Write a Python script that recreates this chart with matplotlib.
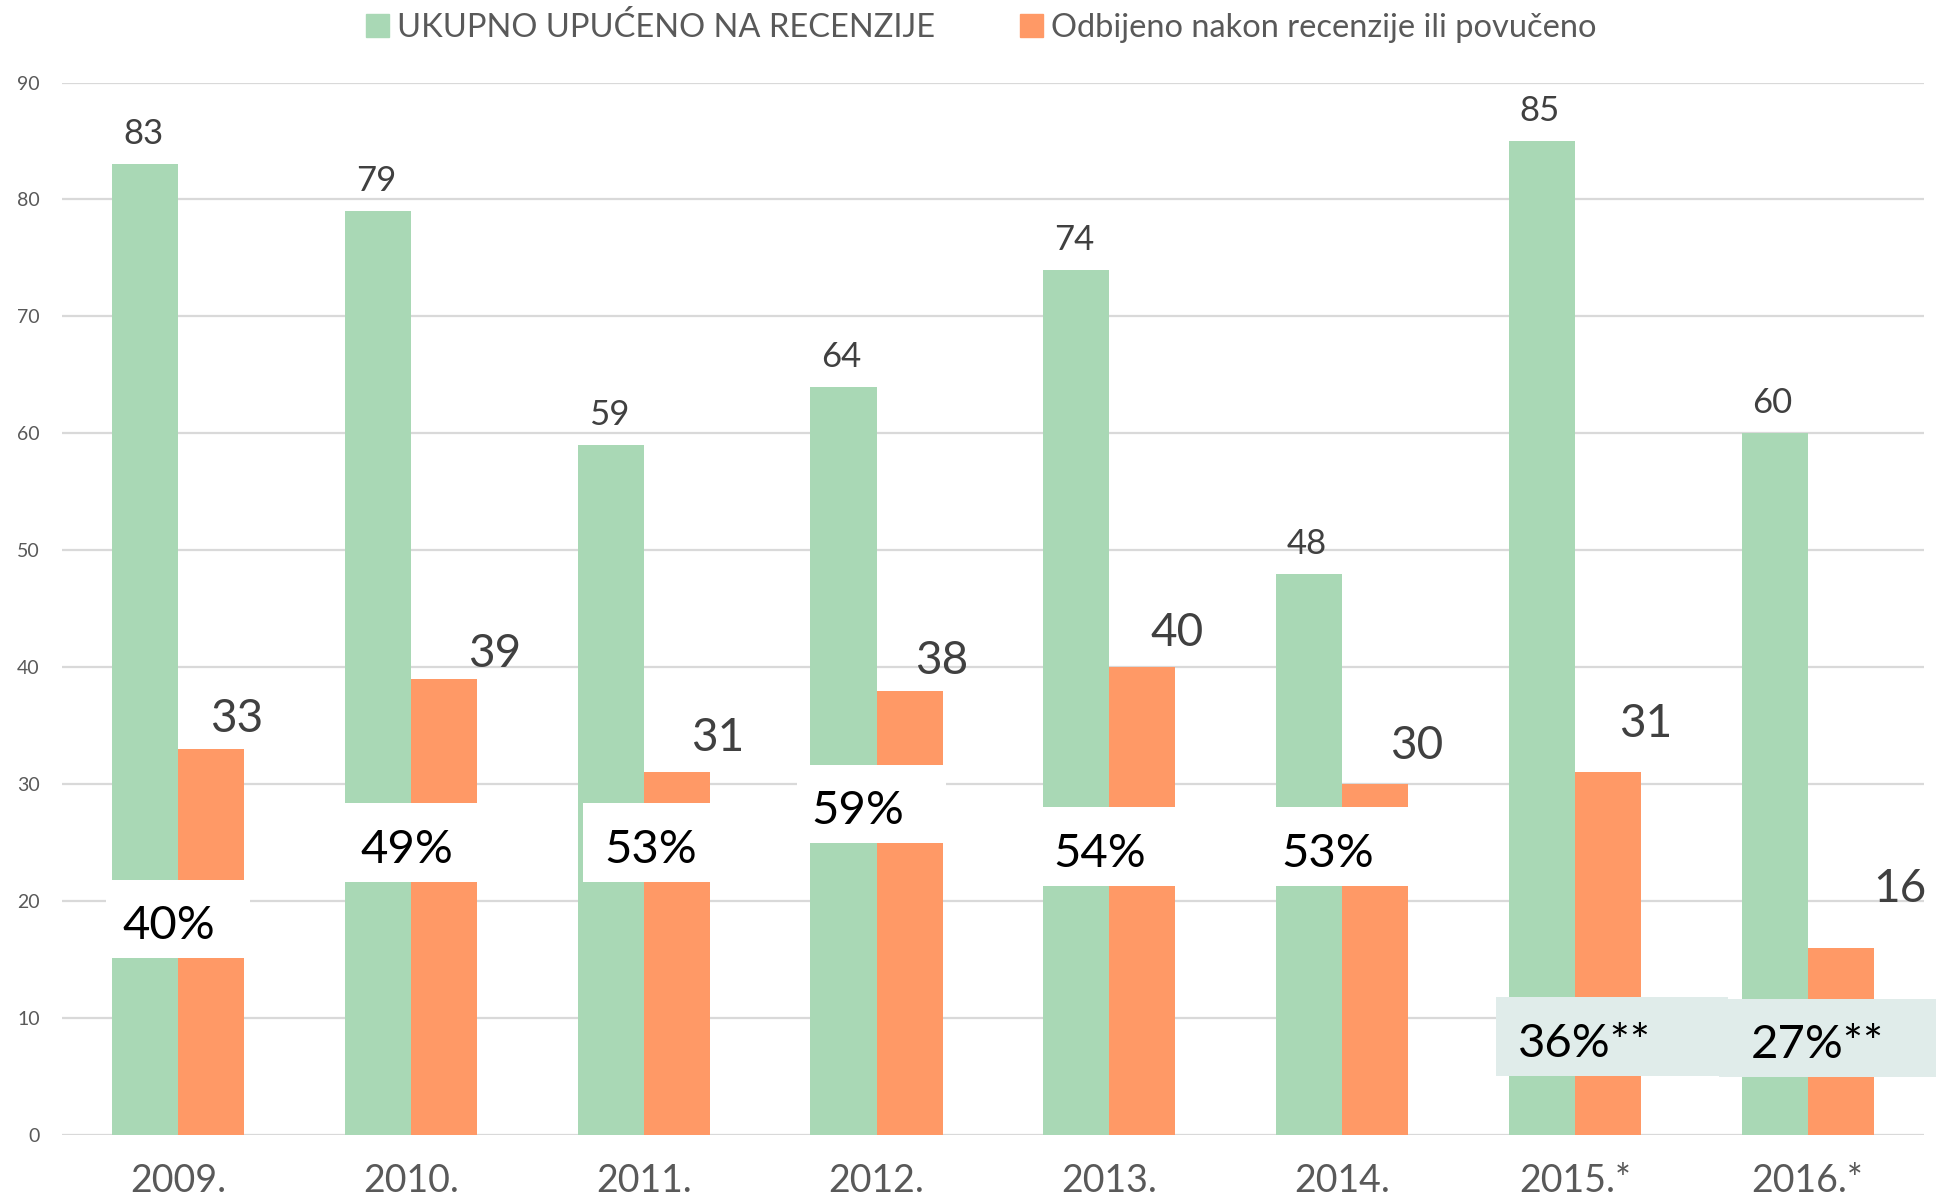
import numpy as np
import matplotlib.pyplot as plt
from matplotlib.patches import Patch, Rectangle

years = ["2009.", "2010.", "2011.", "2012.", "2013.", "2014.", "2015.*", "2016.*"]
ukupno = [83, 79, 59, 64, 74, 48, 85, 60]
odbijeno = [33, 39, 31, 38, 40, 30, 31, 16]
postotak = ["40%", "49%", "53%", "59%", "54%", "53%", "36%**", "27%**"]

# label layout (offsets in pixels, percent boxes in data units)
orange_dx = [25, 50, 41, 32, 35, 42, 38, 59]
orange_dy = [30, 25, 34, 30, 34, 38, 48, 59]
pct_y = [18.45, 25.0, 25.0, 28.3, 24.65, 24.65, 8.4, 8.3]
pct_dx = [-0.04, -0.02, 0.03, -0.08, -0.04, -0.06, 0.04, 0.04]
box_dx = [0.0, 0.0, 0.06, -0.02, 0.0, 0.0, 0.16, 0.12]
box_w = [0.62, 0.62, 0.64, 0.64, 0.62, 0.62, 1.0, 1.0]

green = "#A9D8B5"
orange = "#FF9966"
grey_txt = "#595959"
plt.rcParams['font.family'] = ['Lato', 'DejaVu Sans']

fig, ax = plt.subplots(figsize=(19.36, 11.97), dpi=100)
fig.subplots_adjust(left=0.032, right=0.9938, bottom=0.052, top=0.931)

x = np.arange(len(years))
w = 0.284
ax.bar(x - w/2, ukupno, w, color=green, zorder=2)
ax.bar(x + w/2, odbijeno, w, color=orange, zorder=2)

ax.set_ylim(0, 90)
ax.set_xlim(-0.5, len(years) - 0.5)
ax.set_yticks(np.arange(0, 91, 10))
ax.yaxis.grid(True, color="#D9D9D9", linewidth=1.6, zorder=0)
ax.set_axisbelow(True)
for s in ax.spines.values():
    s.set_visible(False)
ax.tick_params(axis="y", length=0, pad=16, labelsize=14, labelcolor=grey_txt)
ax.tick_params(axis="x", length=0, pad=20, labelsize=27, labelcolor=grey_txt)
ax.set_xticks(x)
ax.set_xticklabels(years)

for i in range(len(years)):
    ax.annotate(str(ukupno[i]), (x[i] - w/2, ukupno[i]), xytext=(-2, 30),
                textcoords="offset pixels", ha="center", va="center",
                fontsize=25, color="#404040")
    ax.annotate(str(odbijeno[i]), (x[i] + w/2, odbijeno[i]),
                xytext=(orange_dx[i], orange_dy[i]), textcoords="offset pixels",
                ha="center", va="center", fontsize=33, color="#404040")
    fc = "white" if i < 6 else "#E0ECEA"
    ax.add_patch(Rectangle((x[i] + box_dx[i] - box_w[i]/2, pct_y[i] - 3.35), box_w[i], 6.7,
                           facecolor=fc, edgecolor="none", zorder=3, clip_on=False))
    ax.text(x[i] + pct_dx[i], pct_y[i] - 0.6, postotak[i], ha="center", va="center",
            fontsize=34, color="black", zorder=4)

handles = [Patch(color=green, label="UKUPNO UPUĆENO NA RECENZIJE"),
           Patch(color=orange, label="Odbijeno nakon recenzije ili povučeno")]
fig.legend(handles=handles, loc="center", bbox_to_anchor=(0.507, 0.977), ncol=2,
           frameon=False, fontsize=23.5, labelcolor=grey_txt, handlelength=0.7,
           handleheight=0.7, handletextpad=0.25, columnspacing=2.6)

fig.savefig("out.png", dpi=100)
